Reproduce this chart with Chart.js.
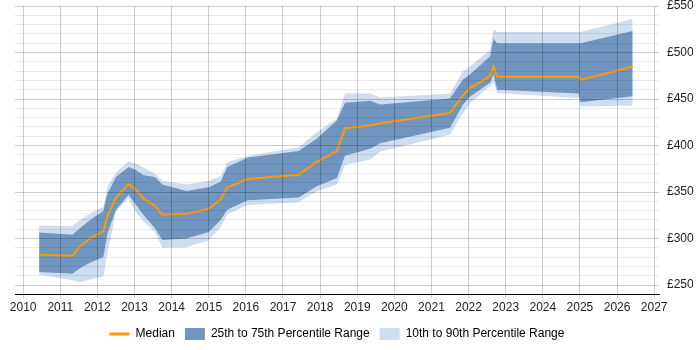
<!DOCTYPE html>
<html>
<head>
<meta charset="utf-8">
<script src="https://cdn.jsdelivr.net/npm/chart.js@4"></script>
<style>
  html, body { margin: 0; padding: 0; background: #fff; }
  #wrap { width: 700px; height: 350px; }
</style>
</head>
<body>
<div id="wrap"><canvas id="chart"></canvas></div>
<script>
// decimal years of each sample
const years = [2010.43, 2011.33, 2011.53, 2011.80, 2012.16, 2012.27, 2012.50, 2012.84,
  2013.02, 2013.25, 2013.55, 2013.75, 2014.40, 2015.00, 2015.32, 2015.50, 2016.05,
  2017.42, 2017.90, 2018.45, 2018.67, 2019.35, 2019.62, 2021.50, 2021.85, 2022.05,
  2022.58, 2022.67, 2022.77, 2024.96, 2025.02, 2026.42];

const median = [282.5, 281.5, 291.5, 300, 308, 324, 344, 358.5, 353, 343, 335, 325.5,
  326.5, 332, 342, 355, 364, 368.5, 382, 394, 418.5, 421.5, 424, 435, 454, 462,
  474.5, 485, 474, 474, 470.5, 485];

const p75 = [306.5, 304, 311, 320, 329.5, 348, 366, 377, 374, 368, 366, 358, 351,
  355, 361, 377, 387, 394, 407, 427, 446, 448, 444, 450.5, 471, 477, 496, 515, 510,
  510, 510, 523];

const p25 = [264, 262, 268, 274, 280, 305, 331, 347, 337, 325, 311, 298.5, 300, 307,
  320, 331, 341, 344, 356, 365, 389, 396.5, 402.5, 419, 444, 453, 467.5, 476.5, 460,
  456, 446.5, 453];

const p90 = [314, 313.5, 320, 327, 334, 356, 371, 383, 381, 376, 370, 362, 358, 362,
  367, 382, 389, 398, 414, 429, 456, 456, 451.5, 456, 480, 485.5, 503, 525, 522, 522,
  522, 536];

const p10 = [261, 255, 253, 256, 259.5, 284, 329, 343, 329, 318, 307, 290, 290.5, 298,
  312, 326, 336, 339, 350.5, 358, 379, 385, 393.5, 411.5, 435, 446, 464, 468, 456.5,
  451, 442, 443];

const orange = '#ff9900';
const darkBlue = '#7096bf';
const lightBlue = '#cedef0';

const pts = arr => years.map((x, i) => ({ x: x, y: arr[i] }));

new Chart(document.getElementById('chart'), {
  type: 'line',
  data: {
    datasets: [
      { label: 'Median', data: pts(median), borderColor: orange, borderWidth: 2,
        pointRadius: 0, fill: false, order: 1 },
      { label: '25th to 75th Percentile Range', data: pts(p75), borderWidth: 0,
        pointRadius: 0, backgroundColor: darkBlue, fill: '+1', order: 2 },
      { label: 'p25', data: pts(p25), borderWidth: 0, pointRadius: 0, fill: false, order: 2 },
      { label: '10th to 90th Percentile Range', data: pts(p90), borderWidth: 0,
        pointRadius: 0, backgroundColor: lightBlue, fill: '+1', order: 3 },
      { label: 'p10', data: pts(p10), borderWidth: 0, pointRadius: 0, fill: false, order: 3 }
    ]
  },
  options: {
    responsive: true,
    maintainAspectRatio: false,
    animation: false,
    elements: { line: { tension: 0 } },
    layout: { autoPadding: false, padding: { left: 15, right: 6, top: 6, bottom: 0 } },
    scales: {
      x: {
        type: 'linear',
        min: 2009.78,
        max: 2027.13,
        afterFit: s => { s.height += 1.3; s.paddingLeft = 0; s.paddingRight = 0; },
        grid: { color: 'rgba(0,0,0,0.2)', tickLength: 4, z: 1 },
        border: { color: '#000', width: 1, z: 1 },
        ticks: {
          stepSize: 1,
          includeBounds: false,
          maxRotation: 0,
          autoSkip: false,
          padding: 2,
          color: '#222',
          font: { family: 'Liberation Sans, Arial, sans-serif', size: 12 },
          callback: v => String(Math.round(v))
        }
      },
      y: {
        position: 'right',
        min: 240,
        max: 550,
        afterFit: s => { s.width = 35; s.paddingTop = 0; s.paddingBottom = 0; },
        grid: {
          drawTicks: false,
          z: 1,
          color: ctx => (ctx.tick && ctx.tick.value % 50 === 0) ? 'rgba(0,0,0,0.2)' : 'rgba(0,0,0,0.08)'
        },
        border: { display: false },
        ticks: {
          stepSize: 10,
          padding: 8,
          color: '#222',
          autoSkip: false,
          font: { family: 'Liberation Sans, Arial, sans-serif', size: 12 },
          callback: v => (v % 50 === 0 ? '£' + v : '')
        }
      }
    },
    plugins: {
      tooltip: { enabled: false },
      legend: {
        position: 'bottom',
        fullSize: false,
        labels: {
          color: '#333',
          usePointStyle: true,
          pointStyleWidth: 20,
          boxHeight: 12,
          padding: 10,
          font: { family: 'Liberation Sans, Arial, sans-serif', size: 12 },
          generateLabels: () => [
            { text: 'Median', fillStyle: orange, strokeStyle: orange, lineWidth: 3,
              pointStyle: 'line', hidden: false, datasetIndex: 0 },
            { text: '25th to 75th Percentile Range', fillStyle: darkBlue, strokeStyle: darkBlue,
              lineWidth: 0, pointStyle: 'rect', hidden: false, datasetIndex: 1 },
            { text: '10th to 90th Percentile Range', fillStyle: lightBlue, strokeStyle: lightBlue,
              lineWidth: 0, pointStyle: 'rect', hidden: false, datasetIndex: 3 }
          ]
        }
      }
    }
  }
});
</script>
</body>
</html>
